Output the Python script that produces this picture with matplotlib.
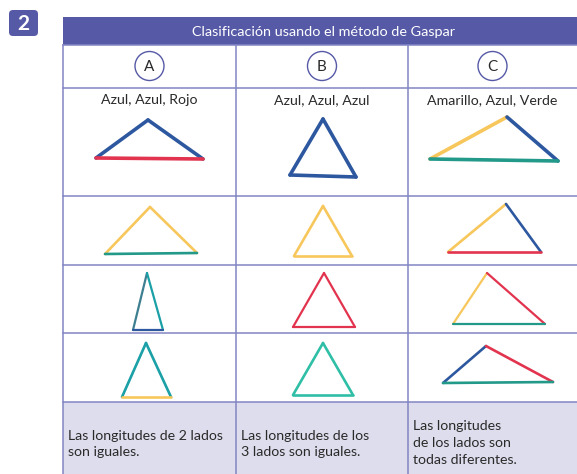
#!/usr/bin/python
# -*- coding: utf-8 -*-
import matplotlib.pyplot as plt
from matplotlib.patches import Rectangle, FancyBboxPatch, Ellipse

# table content
title = 'Clasificación usando el método de Gaspar'
groups = ['A', 'B', 'C']
colour_names = ['Azul, Azul, Rojo', 'Azul, Azul, Azul', 'Amarillo, Azul, Verde']
conclusions = ['Las longitudes de 2 lados\nson iguales.',
               'Las longitudes de los\n3 lados son iguales.',
               'Las longitudes\nde los lados son\ntodas diferentes.']

# stick colours
BLUE = '#2d58a0'
RED = '#e2344f'
YELLOW = '#f7c75c'
GREEN = '#23998a'
TEAL = '#1aa0a6'
MINT = '#2fbea6'
SLATE = '#3d7f90'

# triangles: (row, column) -> vertices (left, apex, right) and side colours
# sides: left-apex, apex-right, right-left
triangles = {
    (0, 0): ([(96, 158), (148, 120), (203, 159)], [BLUE, BLUE, RED]),
    (0, 1): ([(290, 175), (323, 119), (356, 177)], [BLUE, BLUE, BLUE]),
    (0, 2): ([(430, 159), (507, 117), (558, 161)], [YELLOW, BLUE, GREEN]),
    (1, 0): ([(105, 254), (150, 207), (197, 253)], [YELLOW, YELLOW, GREEN]),
    (1, 1): ([(294, 256), (323, 206), (352, 256)], [YELLOW, YELLOW, YELLOW]),
    (1, 2): ([(448, 252), (506, 204), (541, 252)], [YELLOW, BLUE, RED]),
    (2, 0): ([(133, 330), (147, 273), (163, 330)], [SLATE, TEAL, BLUE]),
    (2, 1): ([(293, 327), (324, 273), (355, 327)], [RED, RED, RED]),
    (2, 2): ([(453, 324), (487, 273), (545, 324)], [YELLOW, RED, GREEN]),
    (3, 0): ([(122, 397), (146, 343), (171, 397)], [TEAL, TEAL, YELLOW]),
    (3, 1): ([(293, 395), (323, 343), (353, 395)], [MINT, MINT, MINT]),
    (3, 2): ([(443, 383), (486, 346), (553, 382)], [BLUE, RED, GREEN]),
}
stick_widths = [2.6, 1.9, 1.6, 1.9]

# layout in pixels
col_edges = [63, 236, 408, 577]
row_edges = [17, 45, 88, 196, 265, 333, 402, 474]
HEADER = '#5659a6'
GRID = '#8285c4'
FOOT = '#dedded'
TEXT = '#2a2a2a'
FONT = ['Lato', 'DejaVu Sans']

fig = plt.figure(figsize=(5.77, 4.74), dpi=100)
ax = fig.add_axes([0, 0, 1, 1])
ax.set_xlim(0, 577)
ax.set_ylim(474, 0)
ax.axis('off')

# number badge
ax.add_patch(FancyBboxPatch((9, 10), 29, 26, boxstyle='round,pad=0,rounding_size=4',
                            facecolor=HEADER, edgecolor='none'))
ax.text(23.5, 23.5, '2', color='white', fontsize=15, fontweight='bold',
        ha='center', va='center', family=FONT)

# header bar
ax.add_patch(Rectangle((col_edges[0], row_edges[0]), col_edges[-1] - col_edges[0],
                       row_edges[1] - row_edges[0], facecolor=HEADER, edgecolor='none'))
ax.text(323, (row_edges[0] + row_edges[1]) / 2 + 1, title,
        color='white', fontsize=10.4, ha='center', va='center', family=FONT)

# footer background
ax.add_patch(Rectangle((col_edges[0], row_edges[-2]), col_edges[-1] - col_edges[0],
                       row_edges[-1] - row_edges[-2], facecolor=FOOT, edgecolor='none'))

# grid lines
for y in row_edges[2:-1]:
    ax.plot([col_edges[0], col_edges[-1]], [y, y], color=GRID, lw=1.1)
ax.plot([col_edges[0], col_edges[-1]], [row_edges[1], row_edges[1]], color=GRID, lw=1.1)
for x in col_edges[:-1]:
    ax.plot([x, x], [row_edges[1], row_edges[-1]], color=GRID, lw=1.1)

# circled letters, colour names, conclusions
for i, g in enumerate(groups):
    cx = (col_edges[i] + col_edges[i + 1]) / 2
    ax.add_patch(Ellipse((cx, 66), 29, 29, facecolor='white', edgecolor=HEADER, lw=1.0))
    ax.text(cx, 67, g, fontsize=11, ha='center', va='center', color=TEXT, family=FONT)
    ax.text(cx, 100, colour_names[i], fontsize=10.2, ha='center', va='center',
            color=TEXT, family=FONT)

foot_y = [444, 444, 443]
for i, txt in enumerate(conclusions):
    ax.text(col_edges[i] + 5, foot_y[i], txt, fontsize=10.2, ha='left', va='center',
            color=TEXT, family=FONT, linespacing=1.5)

# sticks
for (r, c), (pts, cols) in triangles.items():
    for k in range(3):
        p, q = pts[k], pts[(k + 1) % 3]
        ax.plot([p[0], q[0]], [p[1], q[1]], color=cols[k], lw=stick_widths[r],
                solid_capstyle='round')

fig.savefig('out.png', dpi=100)
